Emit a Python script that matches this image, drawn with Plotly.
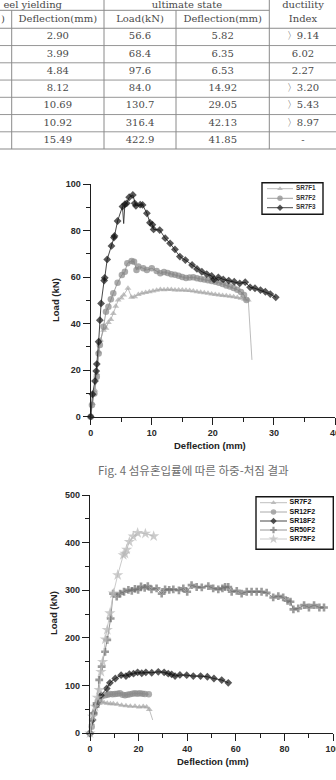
import plotly.graph_objects as go

# ---------------- DATA ----------------
# Table (visible part of the scanned table)
yield_defl = ["2.90", "3.99", "4.84", "8.12", "10.69", "10.92", "15.49"]
ult_load = ["56.6", "68.4", "97.6", "84.0", "130.7", "316.4", "422.9"]
ult_defl = ["5.82", "6.35", "6.53", "14.92", "29.05", "42.13", "41.85"]
ductility = ["〉9.14", "6.02", "2.27", "〉3.20", "〉5.43", "〉8.97", "-"]

# Fig 4 top: SR7F1 / SR7F2 / SR7F3
sr7f1_x = [0, 0.3, 0.7, 1.0, 1.3, 1.6, 2.1, 2.5, 2.9, 3.3, 3.7, 4.1, 4.5, 5.0, 5.4, 6.1, 6.7, 7.2, 7.8, 8.4,
           9.0, 9.6, 10.2, 10.8, 11.4, 12.0, 12.6, 13.2, 13.8, 14.4, 15.0, 15.6, 16.2, 16.8, 17.4, 18.0, 18.6,
           19.2, 19.8, 20.4, 21.0, 21.6, 22.2, 22.8, 23.4, 24.0, 24.6, 25.2, 25.8, 26.4]
sr7f1_y = [0, 5.7, 11.5, 18.6, 27.9, 33.0, 37.2, 38.0, 40.5, 41.8, 44.4, 47.5, 50.1, 51.0, 52.3, 55.2, 51.3,
           51.6, 52.5, 53.0, 53.4, 53.7, 54.0, 54.3, 54.7, 54.6, 54.7, 54.7, 54.5, 54.4, 54.4, 54.3, 54.2,
           54.0, 53.7, 53.5, 53.3, 53.0, 52.7, 52.5, 52.3, 52.1, 52.0, 51.8, 51.6, 51.2, 50.9, 50.5, 50.1, 24.4]

sr7f2_x = [0, 0.2, 0.6, 1.0, 1.3, 1.5, 2.1, 2.5, 2.9, 3.3, 3.7, 4.4, 5.1, 5.6, 6.0, 6.7, 7.1, 7.5, 7.8, 8.6,
           9.2, 10.0, 10.8, 11.4, 12.0, 12.6, 13.2, 13.8, 14.4, 15.0, 15.6, 16.2, 16.8, 17.4, 18.0, 18.6,
           19.2, 19.8, 20.4, 21.0, 21.6, 22.2, 22.8, 23.4, 24.0, 24.6, 25.1, 25.5]
sr7f2_y = [0, 5.0, 10.0, 17.2, 27.2, 30.8, 38.7, 45.1, 47.3, 50.5, 53.0, 57.6, 60.9, 62.3, 65.9, 66.9, 66.6,
           63.0, 64.5, 63.8, 63.0, 63.8, 62.6, 61.6, 62.2, 61.8, 61.2, 61.0, 60.6, 60.0, 59.6, 59.8, 59.9,
           59.5, 59.2, 59.0, 58.6, 58.3, 58.0, 57.6, 57.0, 56.4, 55.9, 55.3, 54.6, 53.6, 52.3, 50.1]

sr7f3_x = [0, 0.3, 0.7, 0.9, 1.0, 1.3, 1.5, 1.7, 2.2, 2.3, 2.7, 3.4, 3.8, 3.9, 4.4, 5.2, 5.4, 5.6, 5.9, 6.3,
           6.9, 7.2, 7.4, 8.1, 8.5, 9.2, 9.7, 10.1, 10.3, 11.3, 12.2, 13.0, 13.8, 14.6, 15.5, 16.6, 17.4,
           18.2, 19.0, 19.8, 20.2, 20.9, 21.7, 22.6, 23.5, 24.4, 25.3, 26.1, 26.9, 27.8, 28.6, 29.4, 30.3]
sr7f3_y = [0, 9.6, 15.3, 19.6, 22.6, 32.2, 41.5, 48.7, 58.5, 59.7, 67.6, 73.4, 77.0, 77.7, 84.1, 90.3, 83.0,
           91.3, 91.7, 94.3, 95.3, 91.7, 90.6, 91.1, 91.0, 87.4, 83.4, 82.5, 80.5, 80.2, 76.7, 74.5, 71.9,
           68.8, 67.3, 65.2, 63.5, 62.3, 61.3, 60.5, 59.0, 59.9, 59.0, 58.5, 58.0, 57.3, 57.8, 55.6, 55.2,
           54.4, 53.7, 52.7, 51.3]

# Fig 4 bottom: SR7F2 / SR12F2 / SR18F2 / SR50F2 / SR75F2
b7_x = [0, 0.7, 1.6, 2.7, 3.8, 4.8, 5.8, 7.1, 8.4, 9.6, 11.2, 13.0, 14.8, 16.6, 18.5, 20.3, 21.9, 23.3, 24.4, 25.8]
b7_y = [0, 21, 42, 56, 63, 66, 64, 63, 62, 62, 61, 59, 58, 57, 57, 55, 56, 55, 50, 28]

b12_x = [0, 0.7, 1.8, 2.7, 3.7, 4.8, 6.2, 7.2, 8.2, 9.3, 10.3, 11.3, 12.3, 13.4, 14.4, 15.4, 16.4, 17.5,
         18.5, 19.5, 20.5, 21.6, 22.6, 24.2]
b12_y = [0, 14, 42, 59, 70, 77, 80, 81, 82.5, 82, 82.5, 83, 84, 81, 80, 81, 82, 83, 84, 83, 84, 83, 82.5, 82]

b18_x = [0, 1.1, 2.5, 4.5, 6.9, 8.2, 10.4, 12.8, 14.8, 16.2, 17.9, 19.6, 21.3, 23.0, 25.4, 28.1, 30.5, 32.2,
         33.6, 35.0, 37.0, 39.8, 42.5, 45.5, 48.3, 51.0, 54.2, 56.9]
b18_y = [0, 28, 59, 80, 94, 106, 115, 122, 120, 124, 125, 128, 126, 128, 127, 129, 128, 125, 123.7, 120,
         122.4, 122, 120, 120, 118.7, 115, 111.7, 106]

b50_x = [0, 1.4, 2.7, 3.8, 4.8, 6.2, 7.1, 8.5, 9.5, 11.0, 12.4, 14.0, 15.8, 17.2, 18.5, 19.8, 21.0, 22.5,
         23.8, 25.3, 27.4, 29.5, 30.9, 32.6, 34.3, 36.6, 38.4, 40.0, 41.8, 43.9, 46.0, 48.7, 50.7, 52.8,
         54.5, 55.6, 56.9, 58.3, 60.4, 62.4, 64.5, 66.5, 68.6, 70.6, 72.7, 75.4, 77.5, 79.5, 81.3, 82.5,
         83.7, 85.7, 88.1, 90.1, 92.2, 94.4, 96.3]
b50_y = [0, 42, 63, 112, 140, 171, 196, 241, 293, 287, 293, 297, 301, 299, 303, 301, 308, 305, 309, 302,
         304, 293, 302, 301, 302, 300, 304, 297, 311, 307, 306, 309, 304, 302, 304, 307, 307, 297, 299,
         293, 297, 297, 297, 297, 295, 285, 288, 285, 278, 276, 260, 262, 269, 264, 269, 264, 264]

b75_x = [0, 1.1, 2.1, 3.0, 3.8, 4.5, 5.2, 6.3, 7.1, 8.2, 9.6, 11.4, 13.7, 14.4, 15.1, 16.2, 17.8, 19.6, 22.8, 26.2]
b75_y = [0, 35, 56, 75, 91, 129, 150, 197, 217, 252, 293.5, 332, 374, 377, 385.7, 401.7, 413, 420.5, 419, 413.6]

top_names = ["SR7F1", "SR7F2", "SR7F3"]
bot_names = ["SR7F2", "SR12F2", "SR18F2", "SR50F2", "SR75F2"]

# ---------------- LAYOUT CONSTANTS ----------------
W, H = 336, 780


def pxx(p):
    return p / W


def pxy(p):
    return 1 - p / H


TABLE_FONT = "DejaVu Serif, Liberation Serif, serif"
TXT = "#4a4a4a"
GRID = "#8a8a8a"
AX = "#1e1e1e"
SANS = "Liberation Sans, Arial, sans-serif"

fig = go.Figure()

# ---------- chart 1 ----------
top_styles = [
    dict(color="#a8a8a8", line="#b4b4b4", symbol="triangle-up", size=6),
    dict(color="#868686", line="#969696", symbol="circle", size=6.5),
    dict(color="#111111", line="#333333", symbol="diamond", size=6),
]
top_data = [(sr7f1_x, sr7f1_y), (sr7f2_x, sr7f2_y), (sr7f3_x, sr7f3_y)]
# points drawn without a marker (sharp drops / spikes in the scan)
top_unmarked = [{len(sr7f1_x) - 1}, set(), {16}]
for (xs, ys), st, nm, um in zip(top_data, top_styles, top_names, top_unmarked):
    sizes = [0 if i in um else st["size"] for i in range(len(xs))]
    fig.add_trace(go.Scatter(
        x=xs, y=ys, name=nm, mode="lines+markers", xaxis="x", yaxis="y",
        line=dict(color=st["line"], width=0.9),
        marker=dict(symbol=st["symbol"], size=sizes, color=st["color"], line=dict(width=0)),
        cliponaxis=False, hoverinfo="skip"))

# ---------- chart 2 ----------
bot_styles = [
    dict(color="#a4a4a4", line="#b8b8b8", symbol="triangle-up", size=6),
    dict(color="#8a8a8a", line="#a0a0a0", symbol="circle", size=6.5),
    dict(color="#111111", line="#333333", symbol="diamond", size=6),
    dict(color="#707070", line="#8a8a8a", symbol="cross", size=6.5),
    dict(color="#b6b6b6", line="#c4c4c4", symbol="star", size=8.5),
]
bot_data = [(b7_x, b7_y), (b12_x, b12_y), (b18_x, b18_y), (b50_x, b50_y), (b75_x, b75_y)]
bot_unmarked = [{len(b7_x) - 1}, set(), set(), set(), set()]
for (xs, ys), st, nm, um in zip(bot_data, bot_styles, bot_names, bot_unmarked):
    sizes = [0 if i in um else st["size"] for i in range(len(xs))]
    fig.add_trace(go.Scatter(
        x=xs, y=ys, name=nm, mode="lines+markers", xaxis="x2", yaxis="y2",
        line=dict(color=st["line"], width=0.9),
        marker=dict(symbol=st["symbol"], size=sizes, color=st["color"], line=dict(width=0)),
        cliponaxis=False, hoverinfo="skip"))

# ---------- legends (own small axes, pixel units inside the box) ----------
LEG1 = dict(x0=262, x1=323, y0=182.7, y1=214.3, rows=[6, 15.6, 25], lx=(5, 31), mx=18, tx=34,
            font=6.3, tcolor="#333333")
LEG2 = dict(x0=256, x1=333.3, y0=496.7, y1=549.3, rows=[6, 15.3, 24.3, 33.3, 42.3], lx=(4, 31), mx=17.5,
            tx=33.5, font=7, tcolor="#111111")
shapes = []
for leg, names, styles, xa, ya in [(LEG1, top_names, top_styles, "x4", "y4"),
                                   (LEG2, bot_names, bot_styles, "x5", "y5")]:
    for r, nm, st in zip(leg["rows"], names, styles):
        shapes.append(dict(type="line", xref=xa, yref=ya, x0=leg["lx"][0], x1=leg["lx"][1], y0=r, y1=r,
                           line=dict(color=st["line"], width=0.9)))
    fig.add_trace(go.Scatter(
        x=[leg["mx"]] * len(names), y=leg["rows"][:len(names)], xaxis=xa, yaxis=ya, mode="markers",
        marker=dict(symbol=[s["symbol"] for s in styles], size=[s["size"] - 1 for s in styles],
                    color=[s["color"] for s in styles], line=dict(width=0)),
        cliponaxis=False, hoverinfo="skip"))
    fig.add_trace(go.Scatter(
        x=[leg["tx"]] * len(names), y=leg["rows"][:len(names)], xaxis=xa, yaxis=ya, mode="text",
        text=names, textposition="middle right",
        textfont=dict(family=SANS, size=leg["font"], color=leg["tcolor"], weight="bold"),
        cliponaxis=False, hoverinfo="skip"))
    shapes.append(dict(type="rect", xref=xa + " domain", yref=ya + " domain", x0=0, x1=1, y0=0, y1=1,
                       line=dict(color="#151515", width=1.4), fillcolor="rgba(0,0,0,0)"))

# ---------- table (own axis, pixel units) ----------
COL_EDGES = [11.7, 104, 176, 269.3]
COL_CENTERS = [57.8, 140, 222.7, 303]
HEAD1_Y = 5.2
HEAD1_BOTTOM = 9.3
DATA_TOP = 28.3
ROW_H = 17.25
n_rows = len(yield_defl)
bottom = DATA_TOP + n_rows * ROW_H

tx, ty, tt = [], [], []
for ci, col in enumerate([yield_defl, ult_load, ult_defl, ductility]):
    for ri, v in enumerate(col):
        tx.append(COL_CENTERS[ci])
        ty.append(DATA_TOP + (ri + 0.5) * ROW_H)
        tt.append(v)
fig.add_trace(go.Scatter(x=tx, y=ty, text=tt, mode="text", xaxis="x3", yaxis="y3",
                         textfont=dict(family=TABLE_FONT, size=10, color=TXT),
                         cliponaxis=False, hoverinfo="skip"))
head2_y = (HEAD1_BOTTOM + DATA_TOP) / 2 + 0.5
fig.add_trace(go.Scatter(
    x=[COL_CENTERS[0], COL_CENTERS[1], COL_CENTERS[2], COL_CENTERS[3], COL_CENTERS[3], 187],
    y=[head2_y, head2_y, head2_y, head2_y + 0.5, HEAD1_Y + 0.3, HEAD1_Y],
    text=["Deflection(mm)", "Load(kN)", "Deflection(mm)", "Index", "ductility", "ultimate state"],
    mode="text", xaxis="x3", yaxis="y3", textfont=dict(family=TABLE_FONT, size=10, color=TXT),
    cliponaxis=False, hoverinfo="skip"))
# the cut-off left column only shows these fragments in the scan
fig.add_trace(go.Scatter(
    x=[62, 5], y=[HEAD1_Y, head2_y], text=["eel yielding", ")"], mode="text",
    textposition="middle left", xaxis="x3", yaxis="y3",
    textfont=dict(family=TABLE_FONT, size=10, color=TXT), cliponaxis=False, hoverinfo="skip"))

# table lines
shapes.append(dict(type="line", xref="x3", yref="y3", x0=-20, x1=COL_EDGES[3], y0=HEAD1_BOTTOM + 1,
                   y1=HEAD1_BOTTOM + 1, line=dict(color=GRID, width=1)))
for k in range(n_rows + 1):
    yy = DATA_TOP + k * ROW_H
    shapes.append(dict(type="line", xref="x3", yref="y3", x0=-20, x1=400, y0=yy, y1=yy,
                       line=dict(color=GRID, width=1.1 if k in (0, n_rows) else 0.9)))
for xe, top in zip(COL_EDGES, [HEAD1_BOTTOM + 1, -10, HEAD1_BOTTOM + 1, -10]):
    shapes.append(dict(type="line", xref="x3", yref="y3", x0=xe, x1=xe, y0=top, y1=bottom,
                       line=dict(color=GRID, width=1)))

# ---------- axes ----------
tickfont = dict(family=SANS, size=9, color="#2a2a2a", weight="bold")


def axis(domain, rng, dtick, mdtick, anchor):
    return dict(domain=domain, range=rng, dtick=dtick, tick0=0, anchor=anchor, showline=True, linecolor=AX,
                linewidth=1.3, ticks="outside", ticklen=7, tickwidth=1.2, tickcolor=AX, showgrid=False,
                zeroline=False, tickfont=tickfont, fixedrange=True, ticklabeloverflow="allow",
                automargin=False,
                minor=dict(dtick=mdtick, tick0=0, ticks="outside", ticklen=4, tickwidth=1.1, tickcolor=AX,
                           showgrid=False))


def hidden(domain, rng, anchor):
    return dict(domain=domain, range=rng, anchor=anchor, visible=False, showgrid=False, zeroline=False,
                fixedrange=True, automargin=False)


annotations = []


def ann(text, x, y, size, angle=0, color="#222222", family=SANS, weight="bold"):
    annotations.append(dict(text=text, x=pxx(x), y=pxy(y), xref="paper", yref="paper", showarrow=False,
                            xanchor="center", yanchor="middle", textangle=angle,
                            font=dict(family=family, size=size, color=color, weight=weight)))


ann("Load (kN)", 55, 300, 9.5, angle=-90)
ann("Deflection (mm)", 210, 445, 9.5)
ann("Load (kN)", 53, 613, 9.5, angle=-90)
ann("Deflection (mm)", 213, 761.5, 9.5)
ann("Fig. 4 섬유혼입률에 따른 하중-처짐 결과", 193.5, 469.5, 11.5, color="#6e6e6e",
    family="Noto Sans CJK KR, sans-serif", weight="normal")

fig.update_layout(
    width=W, height=H, margin=dict(l=0, r=0, t=0, b=0, autoexpand=False),
    paper_bgcolor="white", plot_bgcolor="rgba(0,0,0,0)", showlegend=False,
    xaxis=axis([pxx(90.7), pxx(335)], [0, 40], 10, 5, "y"),
    yaxis=axis([pxy(416.7), pxy(184)], [0, 100], 20, 10, "x"),
    xaxis2=axis([pxx(90), pxx(333)], [0, 100], 20, 10, "y2"),
    yaxis2=axis([pxy(733.3), pxy(495)], [0, 500], 100, 50, "x2"),
    xaxis3=hidden([0, 1], [0, W], "y3"),
    yaxis3=hidden([pxy(160), 1], [160, 0], "x3"),
    xaxis4=hidden([pxx(LEG1["x0"]), pxx(LEG1["x1"])], [0, LEG1["x1"] - LEG1["x0"]], "y4"),
    yaxis4=hidden([pxy(LEG1["y1"]), pxy(LEG1["y0"])], [LEG1["y1"] - LEG1["y0"], 0], "x4"),
    xaxis5=hidden([pxx(LEG2["x0"]), pxx(LEG2["x1"])], [0, LEG2["x1"] - LEG2["x0"]], "y5"),
    yaxis5=hidden([pxy(LEG2["y1"]), pxy(LEG2["y0"])], [LEG2["y1"] - LEG2["y0"], 0], "x5"),
    shapes=shapes, annotations=annotations,
)

fig.write_html("out.html", config={"displayModeBar": False})
